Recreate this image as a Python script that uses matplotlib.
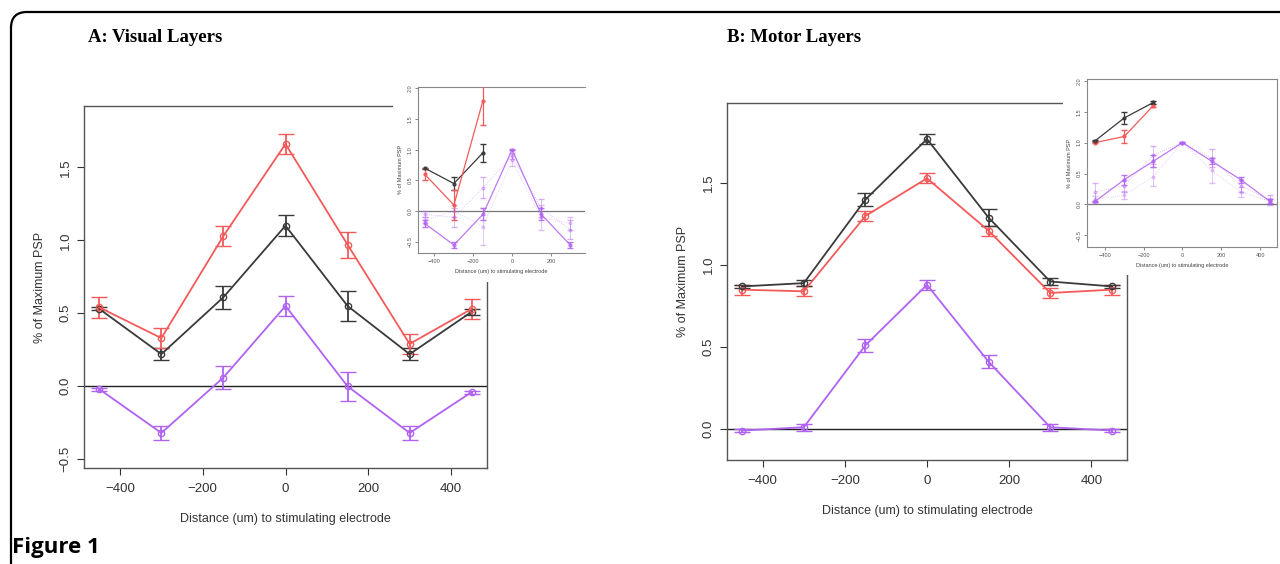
import matplotlib
matplotlib.use("Agg")
import matplotlib.pyplot as plt
from matplotlib.patches import FancyBboxPatch, Rectangle

# ---------------- data ----------------
distances = [-450, -300, -150, 0, 150, 300, 450]

# Panel A: Visual layers (main)
a_red = [0.54, 0.33, 1.03, 1.66, 0.97, 0.29, 0.53]
a_red_err = [0.07, 0.07, 0.07, 0.07, 0.09, 0.07, 0.07]
a_black = [0.53, 0.22, 0.61, 1.10, 0.55, 0.22, 0.51]
a_black_err = [0.01, 0.04, 0.08, 0.07, 0.10, 0.04, 0.02]
a_purple = [-0.02, -0.32, 0.06, 0.55, 0.00, -0.32, -0.04]
a_purple_err = [0.01, 0.05, 0.08, 0.07, 0.10, 0.05, 0.01]

# Panel B: Motor layers (main)
b_black = [0.87, 0.89, 1.40, 1.77, 1.29, 0.90, 0.87]
b_black_err = [0.01, 0.02, 0.04, 0.03, 0.05, 0.02, 0.01]
b_red = [0.85, 0.84, 1.30, 1.53, 1.21, 0.83, 0.85]
b_red_err = [0.03, 0.03, 0.03, 0.03, 0.03, 0.03, 0.03]
b_purple = [-0.01, 0.01, 0.51, 0.88, 0.41, 0.01, -0.01]
b_purple_err = [0.01, 0.02, 0.04, 0.03, 0.04, 0.02, 0.01]

# Inset A
ia_x3 = [-450, -300, -150]
ia_red = [0.60, 0.10, 1.80]
ia_red_err = [0.10, 0.25, 0.40]
ia_black = [0.70, 0.45, 0.95]
ia_black_err = [0.01, 0.10, 0.15]
ia_x6 = [-450, -300, -150, 0, 150, 300]
ia_p1 = [-0.20, -0.55, -0.05, 1.00, -0.05, -0.55]
ia_p1_err = [0.05, 0.05, 0.10, 0.01, 0.10, 0.05]
ia_p2 = [-0.05, -0.10, 0.38, 0.90, 0.05, -0.30]
ia_p2_err = [0.05, 0.15, 0.17, 0.05, 0.15, 0.15]
ia_p3 = [-0.15, 0.00, -0.25, 0.83, -0.10, -0.20]
ia_p3_err = [0.05, 0.10, 0.30, 0.10, 0.20, 0.10]

# Inset B
ib_x3 = [-450, -300, -150]
ib_black = [1.03, 1.40, 1.65]
ib_black_err = [0.01, 0.10, 0.03]
ib_red = [1.00, 1.10, 1.60]
ib_red_err = [0.01, 0.10, 0.03]
ib_p1 = [0.05, 0.40, 0.70, 1.00, 0.70, 0.40, 0.05]
ib_p1_err = [0.01, 0.08, 0.10, 0.01, 0.05, 0.05, 0.03]
ib_p2 = [0.20, 0.30, 0.80, 1.00, 0.75, 0.30, 0.07]
ib_p2_err = [0.15, 0.10, 0.15, 0.01, 0.15, 0.10, 0.08]
ib_p3 = [0.08, 0.15, 0.45, 1.00, 0.55, 0.20, 0.05]
ib_p3_err = [0.05, 0.07, 0.15, 0.01, 0.20, 0.08, 0.05]

xticks = [-400, -200, 0, 200, 400]
xticks_insetA = [-400, -200, 0, 200]

RED = "#f45a5a"
BLACK = "#3a3a3a"
PURPLE = "#b062f2"
SPINE = "#555555"

W, H = 1280, 564
fig = plt.figure(figsize=(W / 100, H / 100), dpi=100)
plt.rcParams['font.family'] = ['Liberation Sans', 'DejaVu Sans']


def px_axes(x0, y0, x1, y1, **kw):
    return fig.add_axes([x0 / W, 1 - y1 / H, (x1 - x0) / W, (y1 - y0) / H], **kw)


def fmt(v):
    return f"{v:.1f}".replace("-", "\u2212")


def fmt_int(v):
    return str(v).replace("-", "\u2212")


def series(ax, x, y, e, color, lw=1.3, cap=6, ms=4.5, alpha=1.0, ls='-', z=3):
    ax.errorbar(x, y, yerr=e, color=color, lw=lw, ls=ls, marker='o', ms=ms,
                mfc='none', mec=color, mew=1.0, capsize=cap, capthick=lw,
                elinewidth=lw, alpha=alpha, zorder=z)


def style_main(ax, ylim, yticks):
    ax.set_xlim(-487, 487)
    ax.set_ylim(*ylim)
    ax.set_xticks(xticks)
    ax.set_xticklabels([fmt_int(v) for v in xticks])
    ax.set_yticks(yticks)
    ax.set_yticklabels([fmt(v) for v in yticks], rotation=90, va='center')
    ax.tick_params(labelsize=9.5, colors='#333333', length=5, width=0.8,
                   direction='out')
    ax.tick_params(axis='y', pad=4)
    ax.tick_params(axis='x', pad=6)
    for s in ax.spines.values():
        s.set_color(SPINE)
        s.set_linewidth(1.0)
    ax.axhline(0, color='#222222', lw=1.0, zorder=2)
    ax.set_xlabel("Distance (um) to stimulating electrode", fontsize=9,
                  color='#333333', labelpad=13)
    ax.set_ylabel("% of Maximum PSP", fontsize=9, color='#333333', labelpad=10)


def style_inset(ax, xlim, ticks, yticks, right_spine=True):
    ax.set_xlim(*xlim)
    ax.set_ylim(-0.68, 2.02)
    ax.set_xticks(ticks)
    ax.set_xticklabels([fmt_int(v) for v in ticks])
    ax.set_yticks(yticks)
    ax.set_yticklabels([fmt(v) for v in yticks], rotation=90, va='center')
    ax.tick_params(labelsize=4, colors='#555555', length=2, width=0.5, pad=2)
    for s in ax.spines.values():
        s.set_color('#888888')
        s.set_linewidth(0.8)
    if not right_spine:
        ax.spines['right'].set_visible(False)
    ax.axhline(0, color='#777777', lw=0.9, zorder=2)
    ax.set_xlabel("Distance (um) to stimulating electrode", fontsize=4,
                  color='#444444', labelpad=4)
    ax.set_ylabel("% of Maximum PSP", fontsize=4, color='#444444', labelpad=3)


# ---------------- Panel A main ----------------
axA = px_axes(84, 106, 487, 468)
series(axA, distances, a_purple, a_purple_err, PURPLE)
series(axA, distances, a_black, a_black_err, BLACK)
series(axA, distances, a_red, a_red_err, RED)
style_main(axA, (-0.56, 1.92), [-0.5, 0.0, 0.5, 1.0, 1.5])

# ---------------- Panel B main ----------------
axB = px_axes(727, 103, 1127, 460)
series(axB, distances, b_purple, b_purple_err, PURPLE)
series(axB, distances, b_red, b_red_err, RED)
series(axB, distances, b_black, b_black_err, BLACK)
style_main(axB, (-0.19, 1.99), [0.0, 0.5, 1.0, 1.5])

# white backgrounds for inset regions
bgA = px_axes(393, 78, 585, 282)
bgA.set_axis_off()
bgA.add_patch(Rectangle((0, 0), 1, 1, transform=bgA.transAxes, color='white'))
bgB = px_axes(1063, 70, 1280, 275)
bgB.set_axis_off()
bgB.add_patch(Rectangle((0, 0), 1, 1, transform=bgB.transAxes, color='white'))

# ---------------- Inset A ----------------
iA = px_axes(418, 87, 585, 253)
style_inset(iA, (-485, 376), xticks_insetA, [-0.5, 0.0, 0.5, 1.0, 1.5, 2.0],
            right_spine=False)
series(iA, ia_x6, ia_p3, ia_p3_err, PURPLE, lw=0.6, cap=2.5, ms=1.8, alpha=0.4, ls=':')
series(iA, ia_x6, ia_p2, ia_p2_err, PURPLE, lw=0.6, cap=2.5, ms=1.8, alpha=0.5, ls=':')
series(iA, ia_x6, ia_p1, ia_p1_err, PURPLE, lw=0.9, cap=2.5, ms=2, alpha=0.85)
series(iA, ia_x3, ia_black, ia_black_err, BLACK, lw=0.9, cap=2.5, ms=2)
series(iA, ia_x3, ia_red, ia_red_err, RED, lw=0.9, cap=2.5, ms=2)

# ---------------- Inset B ----------------
iB = px_axes(1087, 79, 1277, 247)
style_inset(iB, (-492, 487), xticks, [-0.5, 0.0, 0.5, 1.0, 1.5, 2.0])
iB.set_ylim(-0.69, 2.03)
series(iB, distances, ib_p3, ib_p3_err, PURPLE, lw=0.6, cap=2.5, ms=1.8, alpha=0.4, ls=':')
series(iB, distances, ib_p2, ib_p2_err, PURPLE, lw=0.6, cap=2.5, ms=1.8, alpha=0.5, ls=':')
series(iB, distances, ib_p1, ib_p1_err, PURPLE, lw=0.9, cap=2.5, ms=2, alpha=0.85)
series(iB, ib_x3, ib_red, ib_red_err, RED, lw=0.9, cap=2.5, ms=2)
series(iB, ib_x3, ib_black, ib_black_err, BLACK, lw=0.9, cap=2.5, ms=2)

# ---------------- titles, frame ----------------
fig.text(88 / W, 1 - 38 / H, "A: Visual Layers", fontsize=13.5, fontweight='bold',
         family=['Liberation Serif', 'DejaVu Serif'], va='center', ha='left')
fig.text(727 / W, 1 - 38 / H, "B: Motor Layers", fontsize=13.5, fontweight='bold',
         family=['Liberation Serif', 'DejaVu Serif'], va='center', ha='left')
fig.text(12 / W, 1 - 547 / H, "Figure 1", fontsize=16, fontweight='bold',
         family=['Open Sans', 'DejaVu Sans'], va='center', ha='left')

frame = FancyBboxPatch((0.11, -1.0), 13.5, 6.52,
                       boxstyle="round,pad=0,rounding_size=0.16",
                       transform=fig.dpi_scale_trans, fill=False,
                       ec='black', lw=1.6, clip_on=False)
fig.patches.append(frame)

fig.savefig("out.png", dpi=100)
